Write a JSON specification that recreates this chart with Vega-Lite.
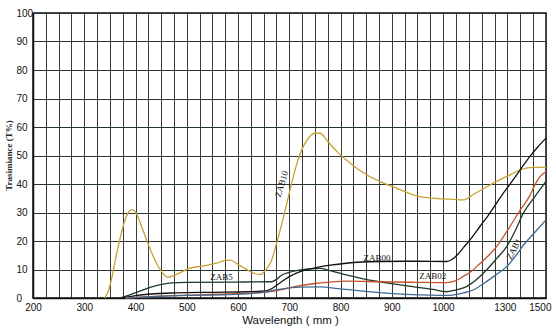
{
  "$schema": "https://vega.github.io/schema/vega-lite/v6.json",
  "width": 513,
  "height": 285,
  "autosize": {"type": "none"},
  "padding": {"left": 33, "top": 13, "right": 10, "bottom": 30},
  "background": "white",
  "config": {
    "view": {"stroke": "#111111", "strokeWidth": 1.5},
    "axis": {"labelFont": "Liberation Sans", "labelColor": "#111111", "labelFontSize": 10, "ticks": false, "tickSize": 0, "domainColor": "#111111", "domainWidth": 1.5, "gridOpacity": 1, "gridWidth": 1}
  },
  "datasets": {
    "curves": [
      {"series": "ZAB10", "wl": 340, "t": 0},
      {"series": "ZAB10", "wl": 348, "t": 3},
      {"series": "ZAB10", "wl": 356, "t": 9},
      {"series": "ZAB10", "wl": 362, "t": 14.5},
      {"series": "ZAB10", "wl": 370, "t": 21},
      {"series": "ZAB10", "wl": 378, "t": 26.5},
      {"series": "ZAB10", "wl": 386, "t": 30},
      {"series": "ZAB10", "wl": 394, "t": 31},
      {"series": "ZAB10", "wl": 402, "t": 29.5},
      {"series": "ZAB10", "wl": 414, "t": 24},
      {"series": "ZAB10", "wl": 428, "t": 17.5},
      {"series": "ZAB10", "wl": 441, "t": 12.2},
      {"series": "ZAB10", "wl": 452, "t": 9},
      {"series": "ZAB10", "wl": 463, "t": 7.3},
      {"series": "ZAB10", "wl": 480, "t": 8.3},
      {"series": "ZAB10", "wl": 505, "t": 10.4},
      {"series": "ZAB10", "wl": 530, "t": 11.2},
      {"series": "ZAB10", "wl": 558, "t": 12.2},
      {"series": "ZAB10", "wl": 575, "t": 13.2},
      {"series": "ZAB10", "wl": 585, "t": 13.3},
      {"series": "ZAB10", "wl": 600, "t": 11.8},
      {"series": "ZAB10", "wl": 615, "t": 10.2},
      {"series": "ZAB10", "wl": 630, "t": 8.7},
      {"series": "ZAB10", "wl": 643, "t": 8.2},
      {"series": "ZAB10", "wl": 655, "t": 10},
      {"series": "ZAB10", "wl": 665, "t": 13},
      {"series": "ZAB10", "wl": 675, "t": 19},
      {"series": "ZAB10", "wl": 684, "t": 25},
      {"series": "ZAB10", "wl": 695, "t": 33},
      {"series": "ZAB10", "wl": 707, "t": 42},
      {"series": "ZAB10", "wl": 720, "t": 50},
      {"series": "ZAB10", "wl": 735, "t": 55.5},
      {"series": "ZAB10", "wl": 750, "t": 57.8},
      {"series": "ZAB10", "wl": 760, "t": 57.8},
      {"series": "ZAB10", "wl": 775, "t": 55},
      {"series": "ZAB10", "wl": 795, "t": 51},
      {"series": "ZAB10", "wl": 811, "t": 48.5},
      {"series": "ZAB10", "wl": 840, "t": 44.5},
      {"series": "ZAB10", "wl": 876, "t": 40.9},
      {"series": "ZAB10", "wl": 910, "t": 38.5},
      {"series": "ZAB10", "wl": 954, "t": 35.6},
      {"series": "ZAB10", "wl": 1000, "t": 34.8},
      {"series": "ZAB10", "wl": 1050, "t": 34.6},
      {"series": "ZAB10", "wl": 1097, "t": 34.4},
      {"series": "ZAB10", "wl": 1150, "t": 36.5},
      {"series": "ZAB10", "wl": 1200, "t": 38.5},
      {"series": "ZAB10", "wl": 1260, "t": 40.9},
      {"series": "ZAB10", "wl": 1320, "t": 43},
      {"series": "ZAB10", "wl": 1376, "t": 45},
      {"series": "ZAB10", "wl": 1441, "t": 45.8},
      {"series": "ZAB10", "wl": 1500, "t": 45.8},

      {"series": "ZAB5", "wl": 370, "t": 0},
      {"series": "ZAB5", "wl": 390, "t": 1.2},
      {"series": "ZAB5", "wl": 410, "t": 2.5},
      {"series": "ZAB5", "wl": 430, "t": 3.8},
      {"series": "ZAB5", "wl": 454, "t": 4.9},
      {"series": "ZAB5", "wl": 470, "t": 5.3},
      {"series": "ZAB5", "wl": 500, "t": 5.5},
      {"series": "ZAB5", "wl": 600, "t": 5.6},
      {"series": "ZAB5", "wl": 665, "t": 5.7},
      {"series": "ZAB5", "wl": 675, "t": 6.5},
      {"series": "ZAB5", "wl": 685, "t": 8.0},
      {"series": "ZAB5", "wl": 700, "t": 9.0},
      {"series": "ZAB5", "wl": 714, "t": 9.6},
      {"series": "ZAB5", "wl": 740, "t": 10.2},
      {"series": "ZAB5", "wl": 760, "t": 10.4},
      {"series": "ZAB5", "wl": 780, "t": 9.6},
      {"series": "ZAB5", "wl": 811, "t": 8.1},
      {"series": "ZAB5", "wl": 840, "t": 6.9},
      {"series": "ZAB5", "wl": 876, "t": 5.7},
      {"series": "ZAB5", "wl": 910, "t": 4.8},
      {"series": "ZAB5", "wl": 941, "t": 4.0},
      {"series": "ZAB5", "wl": 980, "t": 3.0},
      {"series": "ZAB5", "wl": 1016, "t": 2.2},
      {"series": "ZAB5", "wl": 1060, "t": 2.8},
      {"series": "ZAB5", "wl": 1114, "t": 4.0},
      {"series": "ZAB5", "wl": 1160, "t": 6.3},
      {"series": "ZAB5", "wl": 1211, "t": 9.8},
      {"series": "ZAB5", "wl": 1260, "t": 13.8},
      {"series": "ZAB5", "wl": 1309, "t": 18},
      {"series": "ZAB5", "wl": 1350, "t": 23.5},
      {"series": "ZAB5", "wl": 1390, "t": 29.8},
      {"series": "ZAB5", "wl": 1445, "t": 35.5},
      {"series": "ZAB5", "wl": 1500, "t": 40.9},

      {"series": "ZAB00", "wl": 375, "t": 0},
      {"series": "ZAB00", "wl": 400, "t": 0.8},
      {"series": "ZAB00", "wl": 430, "t": 1.4},
      {"series": "ZAB00", "wl": 480, "t": 1.8},
      {"series": "ZAB00", "wl": 550, "t": 2.0},
      {"series": "ZAB00", "wl": 620, "t": 2.2},
      {"series": "ZAB00", "wl": 655, "t": 2.5},
      {"series": "ZAB00", "wl": 668, "t": 3.5},
      {"series": "ZAB00", "wl": 681, "t": 5.2},
      {"series": "ZAB00", "wl": 700, "t": 7.5},
      {"series": "ZAB00", "wl": 720, "t": 9.2},
      {"series": "ZAB00", "wl": 746, "t": 10.4},
      {"series": "ZAB00", "wl": 780, "t": 11.5},
      {"series": "ZAB00", "wl": 811, "t": 12.2},
      {"series": "ZAB00", "wl": 876, "t": 12.8},
      {"series": "ZAB00", "wl": 950, "t": 12.9},
      {"series": "ZAB00", "wl": 1016, "t": 12.8},
      {"series": "ZAB00", "wl": 1045, "t": 13.6},
      {"series": "ZAB00", "wl": 1070, "t": 15.2},
      {"series": "ZAB00", "wl": 1097, "t": 17.5},
      {"series": "ZAB00", "wl": 1140, "t": 21.2},
      {"series": "ZAB00", "wl": 1178, "t": 25},
      {"series": "ZAB00", "wl": 1220, "t": 29},
      {"series": "ZAB00", "wl": 1260, "t": 33.3},
      {"series": "ZAB00", "wl": 1300, "t": 37.5},
      {"series": "ZAB00", "wl": 1341, "t": 41.5},
      {"series": "ZAB00", "wl": 1380, "t": 45.5},
      {"series": "ZAB00", "wl": 1422, "t": 49.7},
      {"series": "ZAB00", "wl": 1460, "t": 53},
      {"series": "ZAB00", "wl": 1500, "t": 56.1},

      {"series": "ZAB02", "wl": 380, "t": 0},
      {"series": "ZAB02", "wl": 420, "t": 0.4},
      {"series": "ZAB02", "wl": 470, "t": 0.8},
      {"series": "ZAB02", "wl": 520, "t": 1.1},
      {"series": "ZAB02", "wl": 580, "t": 1.4},
      {"series": "ZAB02", "wl": 630, "t": 1.8},
      {"series": "ZAB02", "wl": 660, "t": 2.2},
      {"series": "ZAB02", "wl": 681, "t": 2.8},
      {"series": "ZAB02", "wl": 710, "t": 4.0},
      {"series": "ZAB02", "wl": 746, "t": 5.0},
      {"series": "ZAB02", "wl": 780, "t": 5.6},
      {"series": "ZAB02", "wl": 811, "t": 5.9},
      {"series": "ZAB02", "wl": 876, "t": 5.7},
      {"series": "ZAB02", "wl": 950, "t": 5.5},
      {"series": "ZAB02", "wl": 1016, "t": 5.4},
      {"series": "ZAB02", "wl": 1060, "t": 6.0},
      {"series": "ZAB02", "wl": 1097, "t": 7.5},
      {"series": "ZAB02", "wl": 1140, "t": 9.5},
      {"series": "ZAB02", "wl": 1178, "t": 12},
      {"series": "ZAB02", "wl": 1220, "t": 14.8},
      {"series": "ZAB02", "wl": 1260, "t": 18},
      {"series": "ZAB02", "wl": 1320, "t": 24.5},
      {"series": "ZAB02", "wl": 1376, "t": 31},
      {"series": "ZAB02", "wl": 1422, "t": 36},
      {"series": "ZAB02", "wl": 1441, "t": 39},
      {"series": "ZAB02", "wl": 1470, "t": 42.5},
      {"series": "ZAB02", "wl": 1500, "t": 44.4},

      {"series": "ZAB1", "wl": 380, "t": 0},
      {"series": "ZAB1", "wl": 430, "t": 0.5},
      {"series": "ZAB1", "wl": 500, "t": 0.9},
      {"series": "ZAB1", "wl": 580, "t": 1.2},
      {"series": "ZAB1", "wl": 640, "t": 1.8},
      {"series": "ZAB1", "wl": 680, "t": 3.0},
      {"series": "ZAB1", "wl": 720, "t": 3.8},
      {"series": "ZAB1", "wl": 760, "t": 3.9},
      {"series": "ZAB1", "wl": 800, "t": 3.2},
      {"series": "ZAB1", "wl": 876, "t": 1.9},
      {"series": "ZAB1", "wl": 940, "t": 1.2},
      {"series": "ZAB1", "wl": 974, "t": 1.0},
      {"series": "ZAB1", "wl": 1016, "t": 0.9},
      {"series": "ZAB1", "wl": 1060, "t": 1.2},
      {"series": "ZAB1", "wl": 1100, "t": 1.8},
      {"series": "ZAB1", "wl": 1146, "t": 2.8},
      {"series": "ZAB1", "wl": 1200, "t": 5.2},
      {"series": "ZAB1", "wl": 1260, "t": 8.3},
      {"series": "ZAB1", "wl": 1309, "t": 11},
      {"series": "ZAB1", "wl": 1350, "t": 14.5},
      {"series": "ZAB1", "wl": 1390, "t": 18.5},
      {"series": "ZAB1", "wl": 1445, "t": 23},
      {"series": "ZAB1", "wl": 1500, "t": 27.4}
    ],
    "labels": [
      {"label": "ZAB10", "wl": 685, "t": 40},
      {"label": "ZAB5", "wl": 568, "t": 7.2},
      {"label": "ZAB00", "wl": 871, "t": 14.1},
      {"label": "ZAB02", "wl": 980, "t": 7.7},
      {"label": "ZAB1", "wl": 1344, "t": 17.2}
    ]
  },
  "encoding": {
    "x": {
      "field": "wl", "type": "quantitative",
      "scale": {"type": "linear", "domain": [200, 1000, 1500], "range": [0, 410, 513], "nice": false, "zero": false},
      "axis": {
        "values": [200, 225, 250, 275, 300, 325, 350, 375, 400, 425, 450, 475, 500, 525, 550, 575, 600, 625, 650, 675, 700, 725, 750, 775, 800, 825, 850, 875, 900, 925, 950, 975, 1000, 1062.5, 1125, 1187.5, 1250, 1300, 1312.5, 1375, 1437.5, 1500],
        "format": "d",
        "labelExpr": "indexof([200,300,400,500,600,700,800,900,1000,1300,1500], datum.value) >= 0 ? datum.label : ''",
        "labelOverlap": false,
        "labelFlush": false,
        "labelPadding": 4,
        "labelBaseline": "top",
        "labelAlign": {"condition": {"test": "datum.value == 1500", "value": "right"}, "value": "center"},
        "labelOffset": {"condition": {"test": "datum.value == 1500", "value": 5}, "value": 0},
        "grid": true,
        "gridColor": "#3a3a3a",
        "gridOpacity": {"condition": {"test": "datum.value == 1300", "value": 0}, "value": 1},
        "title": "Wavelength ( mm )",
        "titleFont": "Liberation Sans",
        "titleFontWeight": "normal",
        "titleFontSize": 11.5,
        "titleColor": "#111111",
        "titleX": 257,
        "titleY": 25,
        "titleAlign": "center",
        "titleBaseline": "alphabetic"
      }
    },
    "y": {
      "field": "t", "type": "quantitative",
      "scale": {"domain": [0, 100], "nice": false, "zero": true},
      "axis": {
        "values": [0, 10, 20, 30, 40, 50, 60, 70, 80, 90, 100],
        "labelOverlap": false,
        "labelAlign": "left",
        "labelBaseline": "middle",
        "labelPadding": 17,
        "grid": true,
        "gridColor": "#263636",
        "title": "Trasimiance (T%)",
        "titleFont": "Liberation Serif",
        "titleFontWeight": "bold",
        "titleFontSize": 9,
        "titleColor": "#222222",
        "titleAngle": 270,
        "titleX": -25,
        "titleY": 142,
        "titleAlign": "center",
        "titleBaseline": "middle"
      }
    }
  },
  "layer": [
    {
      "data": {"name": "curves"},
      "mark": {"type": "line", "interpolate": "monotone", "strokeWidth": 1.3},
      "encoding": {
        "color": {
          "field": "series", "type": "nominal",
          "scale": {"domain": ["ZAB10", "ZAB5", "ZAB00", "ZAB02", "ZAB1"], "range": ["#c9a233", "#1d3a26", "#111111", "#c4532c", "#3f6a94"]},
          "legend": null
        }
      }
    },
    {
      "data": {"name": "labels"},
      "transform": [{"filter": "datum.label == 'ZAB5' || datum.label == 'ZAB00' || datum.label == 'ZAB02'"}],
      "mark": {"type": "text", "font": "Liberation Serif", "fontSize": 9, "color": "#111111", "align": "center", "baseline": "middle"},
      "encoding": {"text": {"field": "label"}}
    },
    {
      "data": {"name": "labels"},
      "transform": [{"filter": "datum.label == 'ZAB10'"}],
      "mark": {"type": "text", "font": "Liberation Serif", "fontSize": 9, "color": "#111111", "align": "center", "baseline": "middle", "angle": -73},
      "encoding": {"text": {"field": "label"}}
    },
    {
      "data": {"name": "labels"},
      "transform": [{"filter": "datum.label == 'ZAB1'"}],
      "mark": {"type": "text", "font": "Liberation Serif", "fontSize": 9, "color": "#111111", "align": "center", "baseline": "middle", "angle": -62},
      "encoding": {"text": {"field": "label"}}
    }
  ]
}
